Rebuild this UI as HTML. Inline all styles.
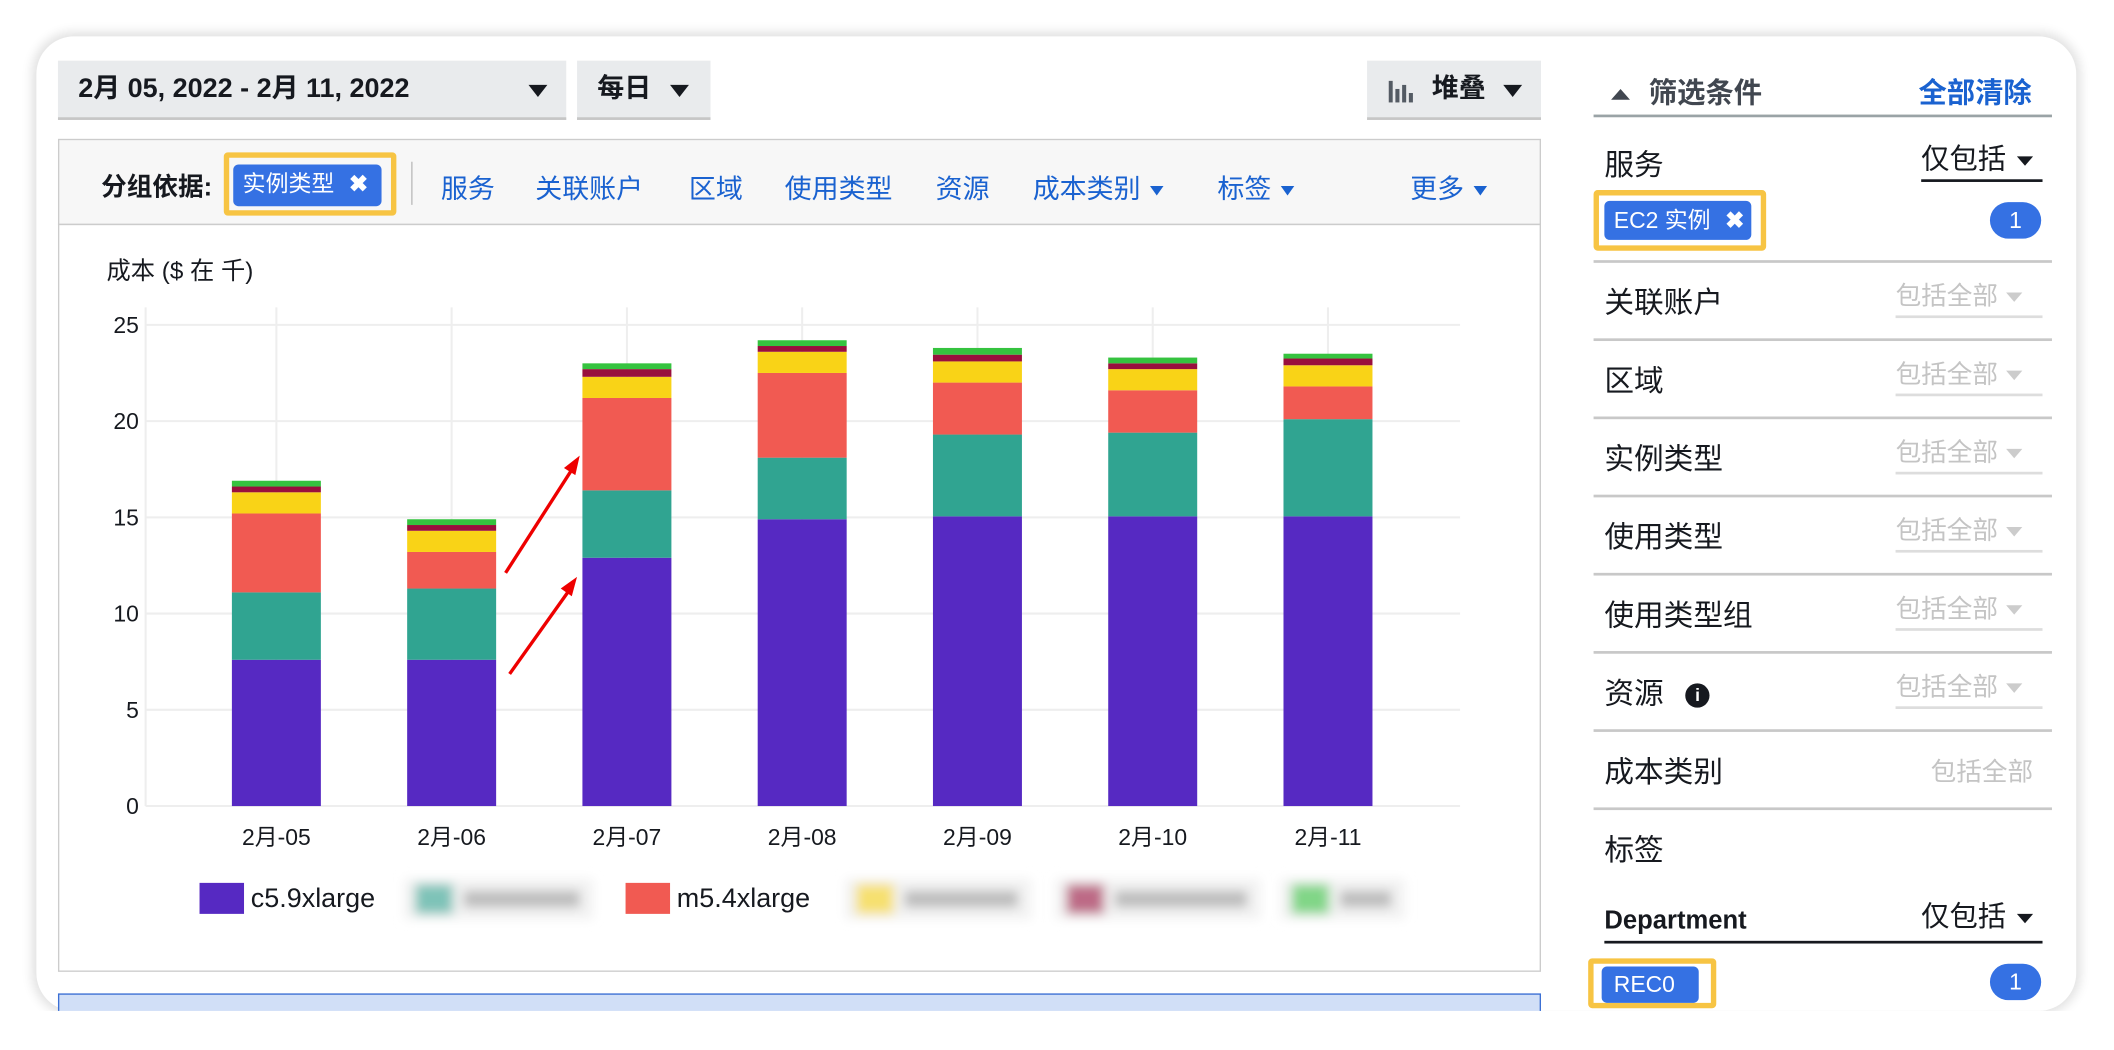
<!DOCTYPE html>
<html><head><meta charset="utf-8">
<style>
html,body{margin:0;padding:0;width:2114px;height:1050px;overflow:hidden;background:#fff;}
#wrap{position:absolute;left:0;top:0;width:1568px;height:779px;transform:scale(1.3482,1.3479);transform-origin:0 0;font-family:"Liberation Sans","Noto Sans CJK SC",sans-serif;}
.abs{position:absolute;}
#card{position:absolute;left:27px;top:27px;width:1513px;height:723px;background:#fff;border-radius:28px;box-shadow:0 0 8px 3px rgba(0,0,0,0.12);overflow:hidden;}
.btn{position:absolute;background:#e9ebed;border-bottom:2px solid #c6c6c6;font-weight:bold;font-size:20px;color:#16191f;box-sizing:border-box;line-height:42px;}
.tri{display:inline-block;width:0;height:0;border-left:7px solid transparent;border-right:7px solid transparent;border-top:9px solid #16191f;}
.link{position:absolute;top:124px;font-size:20px;color:#1a62d0;}
.tri-b{display:inline-block;width:0;height:0;border-left:5px solid transparent;border-right:5px solid transparent;border-top:7px solid #1a62d0;margin-left:7px;vertical-align:middle;}
.row{position:absolute;left:1190px;font-size:22px;color:#16191f;}
.hl{position:absolute;left:1182px;width:340px;height:2px;background:#c8c8c8;}
.ph{position:absolute;left:1406px;width:109px;font-size:19px;color:#c4c4c4;border-bottom:2px solid #ddd;line-height:26px;}
.ph .t{display:inline-block;width:0;height:0;border-left:6px solid transparent;border-right:6px solid transparent;border-top:7px solid #ccc;margin-left:6px;vertical-align:middle;}
.sel{position:absolute;left:1425px;width:90px;font-size:21px;color:#16191f;border-bottom:2px solid #16191f;line-height:28px;}
.sel .t{display:inline-block;width:0;height:0;border-left:6px solid transparent;border-right:6px solid transparent;border-top:7px solid #16191f;margin-left:8px;vertical-align:middle;}
.ybox{position:absolute;border:4px solid #f7c443;border-radius:3px;box-sizing:border-box;}
.chip{position:absolute;background:#3571e3;color:#fff;border-radius:4px;font-size:17px;line-height:30px;padding-left:7px;box-sizing:border-box;}
.cnt{position:absolute;left:1476px;width:38px;height:27px;border-radius:14px;background:#3571e3;color:#fff;font-size:17px;text-align:center;line-height:27px;}
</style></head><body>
<div id="wrap">
<div id="card"></div>

<div class="btn" style="left:43px;top:45px;width:377px;padding-left:15px;">2月 05, 2022 - 2月 11, 2022<span class="tri abs" style="left:349px;top:18px;"></span></div>
<div class="btn" style="left:428px;top:45px;width:99px;padding-left:15px;">每日<span class="tri abs" style="left:69px;top:18px;"></span></div>
<div class="btn" style="left:1014px;top:45px;width:129px;padding-left:48px;">
<svg class="abs" style="left:16px;top:13px" width="22" height="18"><rect x="0" y="2" width="3" height="16" fill="#545b64"/><rect x="5" y="8" width="3" height="10" fill="#545b64"/><rect x="10" y="5" width="3" height="13" fill="#545b64"/><rect x="15" y="11" width="3" height="7" fill="#545b64"/></svg>堆叠<span class="tri abs" style="left:101px;top:18px;"></span></div>

<div class="abs" style="left:43px;top:103px;width:1100px;height:64px;background:#f7f7f7;border:1px solid #ccc;box-sizing:border-box;"></div>
<div class="abs" style="left:75px;top:124px;font-size:19px;font-weight:bold;color:#16191f;">分组依据:</div>
<div class="ybox" style="left:166px;top:113px;width:128px;height:47px;"></div>
<div class="chip" style="left:173px;top:122px;width:110px;height:31px;">实例类型 <b style="margin-left:6px">✖</b></div>
<div class="abs" style="left:305px;top:120px;width:1px;height:32px;background:#bbb;"></div>
<div class="link" style="left:327px">服务</div>
<div class="link" style="left:397px">关联账户</div>
<div class="link" style="left:511px">区域</div>
<div class="link" style="left:582px">使用类型</div>
<div class="link" style="left:694px">资源</div>
<div class="link" style="left:766px">成本类别<span class="tri-b"></span></div>
<div class="link" style="left:903px">标签<span class="tri-b"></span></div>
<div class="link" style="left:1046px">更多<span class="tri-b"></span></div>

<div class="abs" style="left:43px;top:166px;width:1100px;height:555px;border:1px solid #ccc;box-sizing:border-box;"></div>
<svg id="chart" class="abs" style="left:0;top:0" width="1160" height="730"></svg>

<div class="abs" style="left:43px;top:737px;width:1100px;height:30px;background:#d1dff7;border:1px solid #3b6fd4;box-sizing:border-box;"></div>

<div class="abs" style="left:1195px;top:53px;font-size:21px;color:#414750;font-weight:bold;"><span style="display:inline-block;width:0;height:0;border-left:7px solid transparent;border-right:7px solid transparent;border-bottom:8px solid #414750;vertical-align:middle;margin-right:14px;"></span>筛选条件</div>
<div class="abs" style="left:1423px;top:53px;font-size:21px;color:#1a62d0;font-weight:bold;">全部清除</div>
<div class="abs" style="left:1182px;top:85px;width:340px;height:2px;background:#9aa3a6;"></div>

<div class="row" style="top:105px">服务</div>
<div class="sel" style="top:105px">仅包括<span class="t"></span></div>
<div class="ybox" style="left:1182px;top:141px;width:128px;height:45px;"></div>
<div class="chip" style="left:1190px;top:149px;width:109px;height:29px;line-height:29px;">EC2 实例 <b style="margin-left:6px">✖</b></div>
<div class="cnt" style="top:150px">1</div>
<div class="hl" style="top:193px"></div>

<div class="row" style="top:207px">关联账户</div><div class="ph" style="top:208px">包括全部<span class="t"></span></div><div class="hl" style="top:251px"></div>
<div class="row" style="top:265px">区域</div><div class="ph" style="top:266px">包括全部<span class="t"></span></div><div class="hl" style="top:309px"></div>
<div class="row" style="top:323px">实例类型</div><div class="ph" style="top:324px">包括全部<span class="t"></span></div><div class="hl" style="top:367px"></div>
<div class="row" style="top:381px">使用类型</div><div class="ph" style="top:382px">包括全部<span class="t"></span></div><div class="hl" style="top:425px"></div>
<div class="row" style="top:439px">使用类型组</div><div class="ph" style="top:440px">包括全部<span class="t"></span></div><div class="hl" style="top:483px"></div>
<div class="row" style="top:497px">资源 <span style="display:inline-block;width:18px;height:18px;border-radius:9px;background:#16191f;color:#fff;font-size:13px;font-weight:bold;text-align:center;line-height:18px;margin-left:10px;vertical-align:middle;">i</span></div><div class="ph" style="top:498px">包括全部<span class="t"></span></div><div class="hl" style="top:541px"></div>
<div class="row" style="top:555px">成本类别</div><div class="abs" style="left:1432px;top:558px;font-size:19px;color:#c4c4c4;">包括全部</div><div class="hl" style="top:599px"></div>
<div class="row" style="top:613px">标签</div>
<div class="abs" style="left:1190px;top:673px;font-size:19px;font-weight:bold;color:#16191f;">Department</div>
<div class="abs" style="left:1190px;top:698px;width:325px;height:2px;background:#16191f;"></div>
<div class="sel" style="top:667px;border-bottom:none">仅包括<span class="t"></span></div>
<div class="ybox" style="left:1178px;top:711px;width:95px;height:37px;"></div>
<div class="chip" style="left:1188px;top:717px;width:72px;height:27px;line-height:27px;padding-left:9px;">REC0</div>
<div class="cnt" style="top:715px">1</div>

<div class="abs" style="left:0;top:750px;width:1568px;height:29px;background:#fff;"></div>
</div>
<script>
const categories=["2月-05","2月-06","2月-07","2月-08","2月-09","2月-10","2月-11"];
const seriesNames=["c5.9xlarge","blur-a","m5.4xlarge","blur-b","blur-c","blur-d"];
const c5Values=[7.6,7.6,12.9,14.9,15.05,15.05,15.05];
const tealValues=[3.5,3.7,3.5,3.2,4.25,4.35,5.05];
const m5Values=[4.1,1.9,4.8,4.4,2.7,2.2,1.7];
const yellowValues=[1.1,1.1,1.1,1.1,1.1,1.1,1.1];
const maroonValues=[0.3,0.3,0.4,0.3,0.35,0.3,0.35];
const greenValues=[0.3,0.3,0.3,0.3,0.35,0.3,0.25];
const yTicks=[0,5,10,15,20,25];
const colors=["#5629c2","#30a491","#f15a52","#f9d317","#990f3d","#35c33f"];
const allSeries=[c5Values,tealValues,m5Values,yellowValues,maroonValues,greenValues];
const NS="http://www.w3.org/2000/svg";
const svg=document.getElementById('chart');
const x0=108,x1=1083,yBase=598,pxPerUnit=14.28,band=130,firstC=205,barW=66;
const yS=v=>yBase-v*pxPerUnit;
const xS=i=>firstC+i*band;
function mk(t,a){const e=document.createElementNS(NS,t);for(const k in a)e.setAttribute(k,a[k]);svg.appendChild(e);return e;}
let t=mk('text',{x:79,y:207,'font-size':18,fill:'#16191f','font-family':'Liberation Sans, Noto Sans CJK SC, sans-serif'});t.textContent='成本 ($ 在 千)';


yTicks.forEach(v=>{
 const l=mk('line',{x1:x0,x2:x1,y1:yS(v),y2:yS(v),stroke:'#eee','stroke-width':1.5});
 
 
 const tx=mk('text',{x:103,y:yS(v)+6,'text-anchor':'end','font-size':17,fill:'#16191f','font-family':'Liberation Sans, sans-serif'});tx.textContent=v;
 
 
});
const vx=mk('line',{x1:x0,x2:x0,y1:228,y2:yBase,stroke:'#eee','stroke-width':1.5});
categories.forEach((c,i)=>{
 const g=mk('line',{x1:xS(i),x2:xS(i),y1:228,y2:yBase,stroke:'#eee','stroke-width':1.5});
 
 
});
categories.forEach((c,i)=>{
 let acc=0;
 allSeries.forEach((s,k)=>{
  const v=s[i];
  const r=mk('rect',{x:xS(i)-barW/2,y:yS(acc+v),width:barW,height:v*pxPerUnit,fill:colors[k]});
  
  
  acc+=v;
 });
 const tx=mk('text',{x:xS(i),y:627,'text-anchor':'middle','font-size':17,fill:'#16191f','font-family':'Liberation Sans, Noto Sans CJK SC, sans-serif'});tx.textContent=c;
 
 
});
const defs=mk('defs',{});
[[375,425,430,338],[378,500,428,428]].forEach(a=>{
 const ln=mk('line',{x1:a[0],y1:a[1],x2:a[2]-3,y2:a[3]+6,stroke:'#ee0000','stroke-width':2.5});
 
 
 const ang=Math.atan2(a[3]-a[1],a[2]-a[0]);
 const L=14,W=5;const bx=a[2]-L*Math.cos(ang),by=a[3]-L*Math.sin(ang);
 const px=-Math.sin(ang)*W,py=Math.cos(ang)*W;
 mk('polygon',{points:`${a[2]},${a[3]} ${bx+px},${by+py} ${bx-px},${by-py}`,fill:'#ee0000'});
});
const lg=[[148,0,'c5.9xlarge',false],[300,1,'',true],[464,2,'m5.4xlarge',false],[627,3,'',true],[783,4,'',true],[950,5,'',true]];
const blurW=[140,140,0,138,152,92];
const f=mk('filter',{id:'bl',x:'-20%',y:'-50%',width:'140%',height:'200%'});
const fe=document.createElementNS(NS,'feGaussianBlur');fe.setAttribute('stdDeviation','4');f.appendChild(fe);defs.appendChild(f);
lg.forEach(e=>{
 if(e[3]){
  const g=mk('g',{filter:'url(#bl)'});
  
  
  const bg=document.createElementNS(NS,'rect');bg.setAttribute('x',e[0]);bg.setAttribute('y',652);bg.setAttribute('width',blurW[e[1]]);bg.setAttribute('height',30);bg.setAttribute('fill','#f2f2f2');g.appendChild(bg);
  const sw=document.createElementNS(NS,'rect');sw.setAttribute('x',e[0]+8);sw.setAttribute('y',656);sw.setAttribute('width',28);sw.setAttribute('height',22);sw.setAttribute('fill',colors[e[1]]);sw.setAttribute('opacity','0.6');g.appendChild(sw);
  const tb=document.createElementNS(NS,'rect');tb.setAttribute('x',e[0]+44);tb.setAttribute('y',661);tb.setAttribute('width',blurW[e[1]]-54);tb.setAttribute('height',12);tb.setAttribute('fill','#bbb');g.appendChild(tb);
 } else {
  const sw=mk('rect',{x:e[0],y:655,width:33,height:23,fill:colors[e[1]]});
  
  
  const tx=mk('text',{x:e[0]+38,y:673,'font-size':20,fill:'#16191f','font-family':'Liberation Sans, sans-serif'});tx.textContent=e[2];
  
  
 }
});
</script>
</body></html>
